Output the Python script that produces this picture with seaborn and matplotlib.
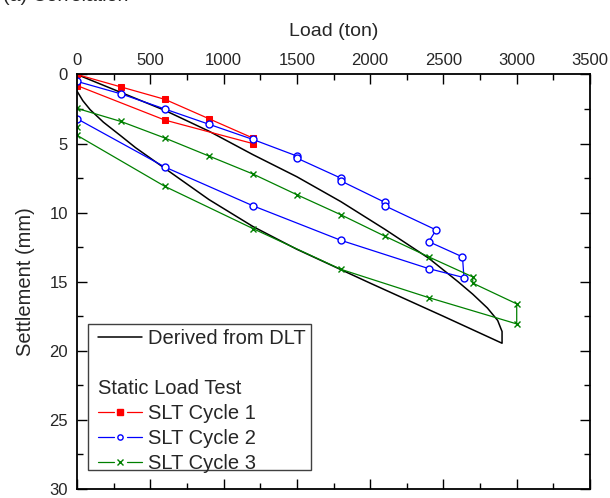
import matplotlib
matplotlib.use("Agg")
import matplotlib.pyplot as plt
import matplotlib.transforms as mtransforms
from matplotlib.lines import Line2D
from matplotlib.patches import Rectangle
from matplotlib.legend_handler import HandlerBase
from matplotlib.ticker import MultipleLocator
import seaborn as sns

# ---- data ----
dlt_load = [0, 300, 600, 900, 1200, 1500, 1800, 2100, 2400, 2600, 2700, 2800, 2870, 2900, 2900,
            2500, 2000, 1500, 1200, 900, 600, 400, 300, 180, 90, 40, 0]
dlt_settle = [0, 1.3, 2.6, 4.1, 5.8, 7.4, 9.2, 11.2, 13.3, 15.0, 15.9, 16.9, 17.8, 18.6, 19.45,
              17.5, 15.1, 12.65, 11.0, 9.05, 6.8, 5.3, 4.45, 3.45, 2.55, 1.9, 1.2]

c1_load = [0, 300, 600, 900, 1200, 1200, 600, 0]
c1_settle = [0, 0.9, 1.8, 3.2, 4.6, 5.0, 3.3, 0.8]

c2_load = [0, 300, 600, 900, 1200, 1500, 1500, 1800, 1800, 2100, 2100, 2450, 2400, 2630, 2640,
           2400, 1800, 1200, 600, 0]
c2_settle = [0.5, 1.4, 2.5, 3.6, 4.7, 5.9, 6.05, 7.5, 7.7, 9.25, 9.5, 11.25, 12.1, 13.2, 14.7,
             14.05, 12.0, 9.5, 6.7, 3.2]

c3_load = [0, 300, 600, 900, 1200, 1500, 1800, 2100, 2400, 2700, 2700, 3000, 3000,
           2400, 1800, 1200, 600, 0, 0]
c3_settle = [2.45, 3.4, 4.6, 5.9, 7.2, 8.7, 10.15, 11.7, 13.2, 14.65, 15.1, 16.6, 18.05,
             16.15, 14.1, 11.15, 8.1, 4.4, 3.8]

x_ticks = [0, 500, 1000, 1500, 2000, 2500, 3000, 3500]
y_ticks = [0, 5, 10, 15, 20, 25, 30]

sns.set_style("ticks")
plt.rcParams["font.family"] = ["Liberation Sans", "DejaVu Sans"]

W, H = 610, 498
fig = plt.figure(figsize=(W / 100, H / 100), dpi=100)
ax_l, ax_r, ax_t, ax_b = 77, 590, 74.5, 489
ax = fig.add_axes([ax_l / W, 1 - ax_b / H, (ax_r - ax_l) / W, (ax_b - ax_t) / H])
aw, ah = ax_r - ax_l, ax_b - ax_t

RED, BLUE, GREEN = "#FF0000", "#0000FF", "#008000"
lw = 0.9
sns.lineplot(x=dlt_load, y=dlt_settle, sort=False, estimator=None, color="black", lw=1.1, ax=ax)
sns.lineplot(x=c1_load, y=c1_settle, sort=False, estimator=None, color=RED, lw=lw,
             marker="s", markersize=4.8, markeredgecolor=RED, markerfacecolor=RED, ax=ax)
sns.lineplot(x=c2_load, y=c2_settle, sort=False, estimator=None, color=BLUE, lw=lw,
             marker="o", markersize=5, markeredgecolor=BLUE, markerfacecolor="white",
             markeredgewidth=1.0, ax=ax)
sns.lineplot(x=c3_load, y=c3_settle, sort=False, estimator=None, color=GREEN, lw=lw,
             marker="x", markersize=5, markeredgecolor=GREEN, markeredgewidth=1.0, ax=ax)

ax.set_xlim(0, 3500)
ax.set_ylim(30, 0)
ax.set_xticks(x_ticks)
ax.set_yticks(y_ticks)
ax.xaxis.set_minor_locator(MultipleLocator(250))
ax.yaxis.set_minor_locator(MultipleLocator(2.5))
ax.xaxis.tick_top()
ax.xaxis.set_label_position("top")
ax.tick_params(which="both", direction="in", top=True, bottom=True, left=True, right=True,
               labeltop=True, labelbottom=False, width=1.0, color="black", labelsize=12)
ax.tick_params(which="major", length=7)
ax.tick_params(which="minor", length=4)
ax.tick_params(axis="x", which="major", pad=5)
ax.tick_params(axis="y", which="major", pad=6.5)
for s in ax.spines.values():
    s.set_linewidth(1.3)
    s.set_color("black")

ax.set_xlabel("Load (ton)", fontsize=14, labelpad=12)
ax.set_ylabel("Settlement (mm)", fontsize=14.5, labelpad=10)

fig.text(0.005, 1 - 1 / H, "(a) Correlation", fontsize=14, va="baseline", ha="left")

# legend frame drawn explicitly
frame = Rectangle(((88 - ax_l) / aw, (ax_b - 470) / ah), 223 / aw, 146 / ah,
                  transform=ax.transAxes, facecolor="white", edgecolor="#404040",
                  lw=1.0, zorder=4)
ax.add_patch(frame)

lfs = 14.5
fs_px = lfs * 100 / 72
hl, htp = 2.2, 0.3


class SegHandler(HandlerBase):
    """line - marker - line, with gaps around the marker"""

    def create_artists(self, legend, orig_handle, xdescent, ydescent, width, height,
                       fontsize, trans):
        y = height / 2.0 - ydescent
        x0 = -xdescent
        c = orig_handle.get_color()
        l1 = Line2D([x0, x0 + 0.36 * width], [y, y], color=c, lw=orig_handle.get_linewidth())
        l2 = Line2D([x0 + 0.655 * width, x0 + width], [y, y], color=c,
                    lw=orig_handle.get_linewidth())
        m = Line2D([x0 + 0.5 * width], [y], lw=0, marker=orig_handle.get_marker(),
                   markersize=orig_handle.get_markersize(),
                   markerfacecolor=orig_handle.get_markerfacecolor(),
                   markeredgecolor=c, markeredgewidth=1.0)
        for a in (l1, l2, m):
            a.set_transform(trans)
        return [l1, l2, m]


h1 = Line2D([], [], color=RED, lw=lw, marker="s", markersize=3.8, markerfacecolor=RED)
h2 = Line2D([], [], color=BLUE, lw=lw, marker="o", markersize=3.8, markerfacecolor="white")
h3 = Line2D([], [], color=GREEN, lw=lw, marker="x", markersize=3.8, markerfacecolor=GREEN)
blank = Line2D([], [], color="none")
handles = [Line2D([], [], color="black", lw=1.1), blank, blank, h1, h2, h3]
labels = ["Derived from DLT", " ", "Static Load Test", "SLT Cycle 1", "SLT Cycle 2", "SLT Cycle 3"]
seg = SegHandler()
leg = ax.legend(handles, labels, loc="upper left",
                bbox_to_anchor=((98 - ax_l) / aw, (ax_b - 329) / ah),
                borderaxespad=0, borderpad=0, fontsize=lfs, frameon=False,
                handlelength=hl, handletextpad=htp, labelspacing=0.3,
                handler_map={h1: seg, h2: seg, h3: seg})
leg.set_zorder(5)
hdr = leg.get_texts()[2]
shift = (hl + htp) * fs_px / 100
hdr.set_transform(hdr.get_transform() + mtransforms.ScaledTranslation(-shift, 0, fig.dpi_scale_trans))

fig.savefig("out.png", dpi=100)
